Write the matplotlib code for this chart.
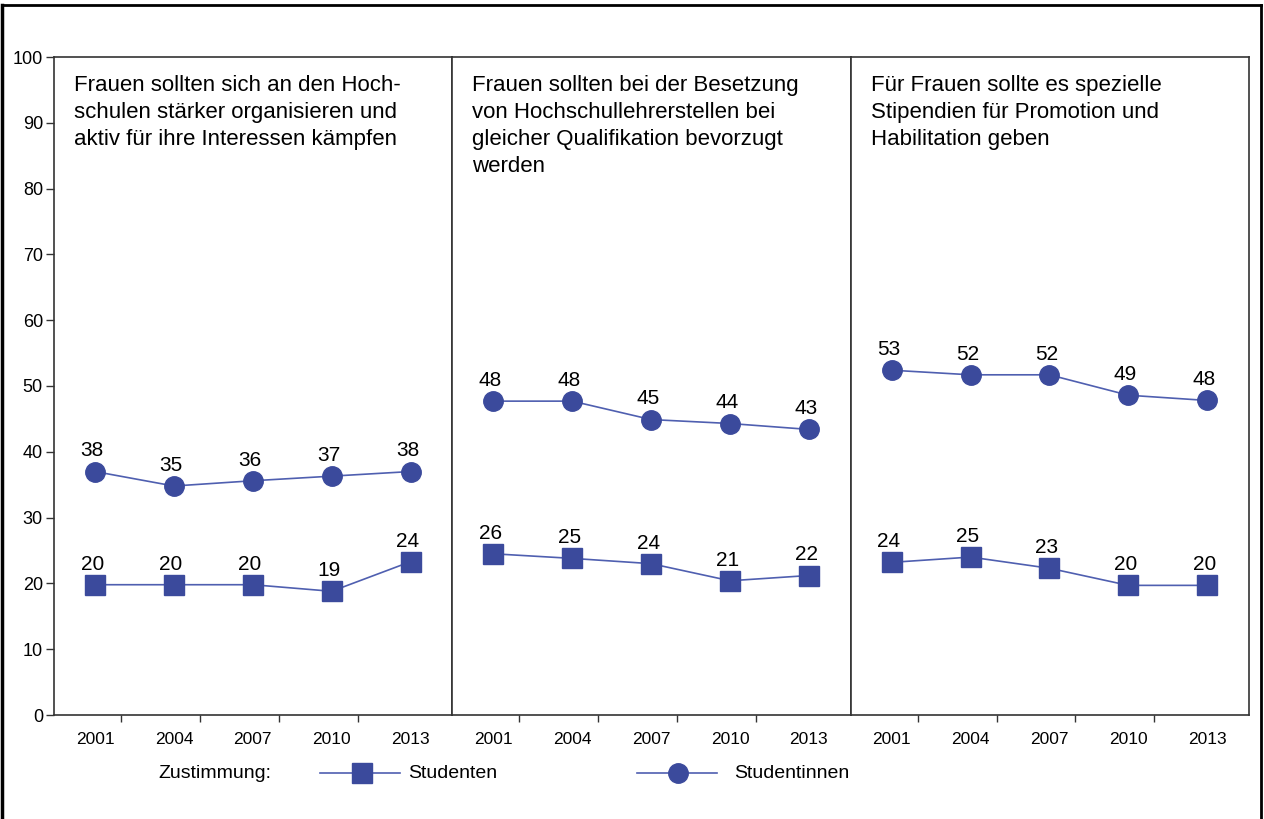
import matplotlib
matplotlib.use('Agg')
import matplotlib.pyplot as plt
from matplotlib.lines import Line2D

plt.rcParams['font.family'] = ['Liberation Sans', 'DejaVu Sans']

# data
years = ['2001', '2004', '2007', '2010', '2013']
titles = [
    'Frauen sollten sich an den Hoch-\nschulen stärker organisieren und\naktiv für ihre Interessen kämpfen',
    'Frauen sollten bei der Besetzung\nvon Hochschullehrerstellen bei\ngleicher Qualifikation bevorzugt\nwerden',
    'Für Frauen sollte es spezielle\nStipendien für Promotion und\nHabilitation geben',
]
# values as drawn in the chart
studenten = [[19.8, 19.8, 19.8, 18.8, 23.3],
             [24.5, 23.8, 23.0, 20.4, 21.2],
             [23.2, 24.0, 22.3, 19.7, 19.7]]
studentinnen = [[37.0, 34.8, 35.6, 36.3, 37.0],
                [47.7, 47.7, 44.9, 44.3, 43.4],
                [52.4, 51.7, 51.7, 48.6, 47.8]]
# printed labels
studenten_lbl = [[20, 20, 20, 19, 24],
                 [26, 25, 24, 21, 22],
                 [24, 25, 23, 20, 20]]
studentinnen_lbl = [[38, 35, 36, 37, 38],
                    [48, 48, 45, 44, 43],
                    [53, 52, 52, 49, 48]]

blue = '#3b4a9c'
line_blue = '#4f5fb0'
frame = '#333333'

fig = plt.figure(figsize=(12.64, 8.19), dpi=100)

left, right = 54 / 1264, 1249 / 1264
bottom, top = 1 - 715 / 819, 1 - 57 / 819
w = (right - left) / 3
xs = list(range(len(years)))

for p in range(3):
    ax = fig.add_axes([left + p * w, bottom, w, top - bottom])
    ax.plot(xs, studenten[p], color=line_blue, lw=1.2, marker='s', ms=15,
            mfc=blue, mec=blue)
    ax.plot(xs, studentinnen[p], color=line_blue, lw=1.2, marker='o', ms=14,
            mfc=blue, mec=blue)
    for x, v, l in zip(xs, studenten[p], studenten_lbl[p]):
        ax.annotate(str(l), (x, v), xytext=(-2, 8), textcoords='offset points',
                    ha='center', va='bottom', fontsize=15)
    for x, v, l in zip(xs, studentinnen[p], studentinnen_lbl[p]):
        ax.annotate(str(l), (x, v), xytext=(-2, 8), textcoords='offset points',
                    ha='center', va='bottom', fontsize=15)
    ax.set_xlim(-0.52, 4.53)
    ax.set_ylim(0, 100)
    ax.set_xticks(xs)
    ax.set_xticklabels(years, fontsize=12.5)
    ax.tick_params(axis='x', which='major', length=0, pad=12)
    ax.set_xticks([i + 0.33 for i in xs[:-1]], minor=True)
    ax.tick_params(axis='x', which='minor', length=5, width=1, color=frame,
                   direction='out')
    if p == 0:
        ax.set_yticks(range(0, 101, 10))
        ax.tick_params(axis='y', length=6, width=1, color=frame, labelsize=13,
                       pad=2)
    else:
        ax.set_yticks([])
    for s in ax.spines.values():
        s.set_color(frame)
        s.set_linewidth(1.2)
    ax.text(0.05, 0.972, titles[p], transform=ax.transAxes, ha='left', va='top',
            fontsize=16, linespacing=1.36)

# legend row
ly = 1 - 773 / 819
fig.text(158 / 1264, ly, 'Zustimmung:', fontsize=14, va='center')
fig.add_artist(Line2D([320 / 1264, 400 / 1264], [ly, ly], color=line_blue, lw=1.2))
fig.add_artist(Line2D([362 / 1264], [ly], marker='s', ms=15, color=blue, lw=0))
fig.text(408 / 1264, ly, 'Studenten', fontsize=14, va='center')
fig.add_artist(Line2D([637 / 1264, 717 / 1264], [ly, ly], color=line_blue, lw=1.2))
fig.add_artist(Line2D([678 / 1264], [ly], marker='o', ms=14, color=blue, lw=0))
fig.text(734 / 1264, ly, 'Studentinnen', fontsize=14, va='center')

# outer frame
fy = 1 - 5 / 819
fig.add_artist(Line2D([2 / 1264, 1261 / 1264], [fy, fy], color='black', lw=2))
fig.add_artist(Line2D([2 / 1264, 2 / 1264], [0, fy], color='black', lw=2.5))
fig.add_artist(Line2D([1261 / 1264, 1261 / 1264], [0, fy], color='black', lw=2))

fig.savefig('out.png', dpi=100)
